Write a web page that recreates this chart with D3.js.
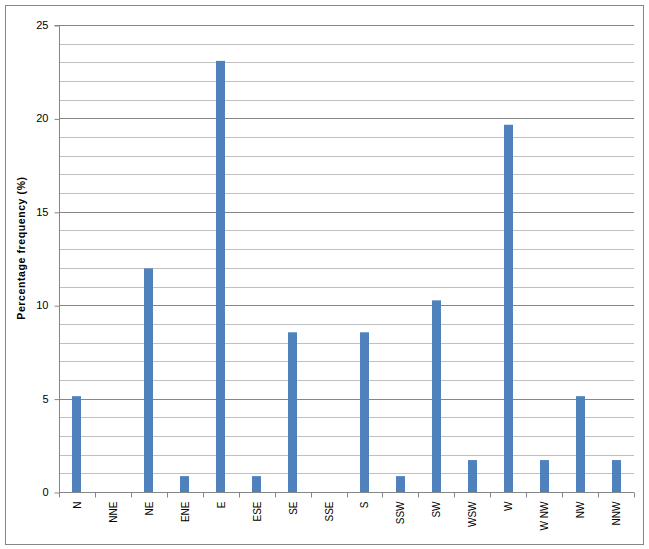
<!DOCTYPE html>
<html>
<head>
<meta charset="utf-8">
<script src="https://cdn.jsdelivr.net/npm/d3@7"></script>
<style>
  body { margin: 0; background: #fff; }
  svg { display: block; font-family: "Liberation Sans", Arial, sans-serif; }
</style>
</head>
<body>
<div id="vis"></div>
<script>
// wind direction frequencies (%)
var directions = ["N", "NNE", "NE", "ENE", "E", "ESE", "SE", "SSE",
                  "S", "SSW", "SW", "WSW", "W", "W NW", "NW", "NNW"];
var frequency = [5.13, 0, 11.97, 0.85, 23.08, 0.85, 8.55, 0,
                 8.55, 0.85, 10.26, 1.71, 19.66, 1.71, 5.13, 1.71];
var yTicks = [0, 5, 10, 15, 20, 25];

var W = 649, H = 549;
var margin = {top: 25, right: 15, bottom: 57, left: 59};

var svg = d3.select("#vis").append("svg")
  .attr("width", W).attr("height", H);

// outer chart border
svg.append("rect")
  .attr("x", 5.5).attr("y", 5.5)
  .attr("width", 638).attr("height", 539)
  .attr("fill", "#fff")
  .attr("stroke", "#868686");

var width = W - margin.left - margin.right;
var height = H - margin.top - margin.bottom;

var g = svg.append("g")
  .attr("transform", "translate(" + margin.left + "," + margin.top + ")");

var x = d3.scaleBand()
  .domain(directions)
  .range([0, width]);

var y = d3.scaleLinear()
  .domain([0, 25])
  .range([height, 0]);

// gridlines: minor every 1, major every 5
g.append("g")
  .selectAll("line")
  .data(d3.range(1, 26).filter(v => v % 5 != 0))
  .join("line")
  .attr("x1", 0).attr("x2", width)
  .attr("y1", d => Math.round(y(d)) + 0.5)
  .attr("y2", d => Math.round(y(d)) + 0.5)
  .attr("stroke", "#c0c0c0");

g.append("g")
  .selectAll("line")
  .data(yTicks.slice(1))
  .join("line")
  .attr("x1", 0).attr("x2", width)
  .attr("y1", d => Math.round(y(d)) + 0.5)
  .attr("y2", d => Math.round(y(d)) + 0.5)
  .attr("stroke", "#868686");

// bars
var barW = 9;
g.append("g")
  .selectAll("rect")
  .data(frequency)
  .join("rect")
  .attr("x", (d, i) => Math.round(x(directions[i]) + x.bandwidth() / 2 - barW / 2))
  .attr("y", d => y(d))
  .attr("width", barW)
  .attr("height", d => height - y(d))
  .attr("fill", "#4f81bd");

// y axis
var yAxis = g.append("g")
  .attr("transform", "translate(0.5,0)")
  .call(d3.axisLeft(y).tickValues(yTicks).tickSize(5).tickPadding(6));
yAxis.select(".domain").attr("stroke", "#868686").attr("d", "M-5,0.5H0V" + (height + 0.5));
yAxis.selectAll(".tick line").attr("stroke", "#868686")
  .attr("transform", "translate(0,0.5)");
yAxis.selectAll(".tick text")
  .attr("font-size", 11).attr("fill", "#000");

// x axis, ticks at band boundaries
var xg = g.append("g")
  .attr("transform", "translate(0," + (Math.round(height) + 0.5) + ")");
xg.append("line")
  .attr("x1", 0).attr("x2", width)
  .attr("stroke", "#868686");
xg.selectAll(".tk")
  .data(d3.range(directions.length + 1))
  .join("line")
  .attr("class", "tk")
  .attr("x1", d => Math.round(d * x.step()) + 0.5)
  .attr("x2", d => Math.round(d * x.step()) + 0.5)
  .attr("y1", 0).attr("y2", 5)
  .attr("stroke", "#868686");
xg.selectAll("text")
  .data(directions)
  .join("text")
  .attr("transform", d => "translate(" + (x(d) + x.bandwidth() / 2 + 4) + ",9) rotate(-90)")
  .attr("text-anchor", "end")
  .attr("font-size", 10)
  .text(d => d);

// y axis title
svg.append("text")
  .attr("transform", "translate(25,248) rotate(-90)")
  .attr("text-anchor", "middle")
  .attr("font-size", 10.5)
  .attr("font-weight", "bold")
  .attr("letter-spacing", 0.6)
  .text("Percentage frequency (%)");
</script>
</body>
</html>
